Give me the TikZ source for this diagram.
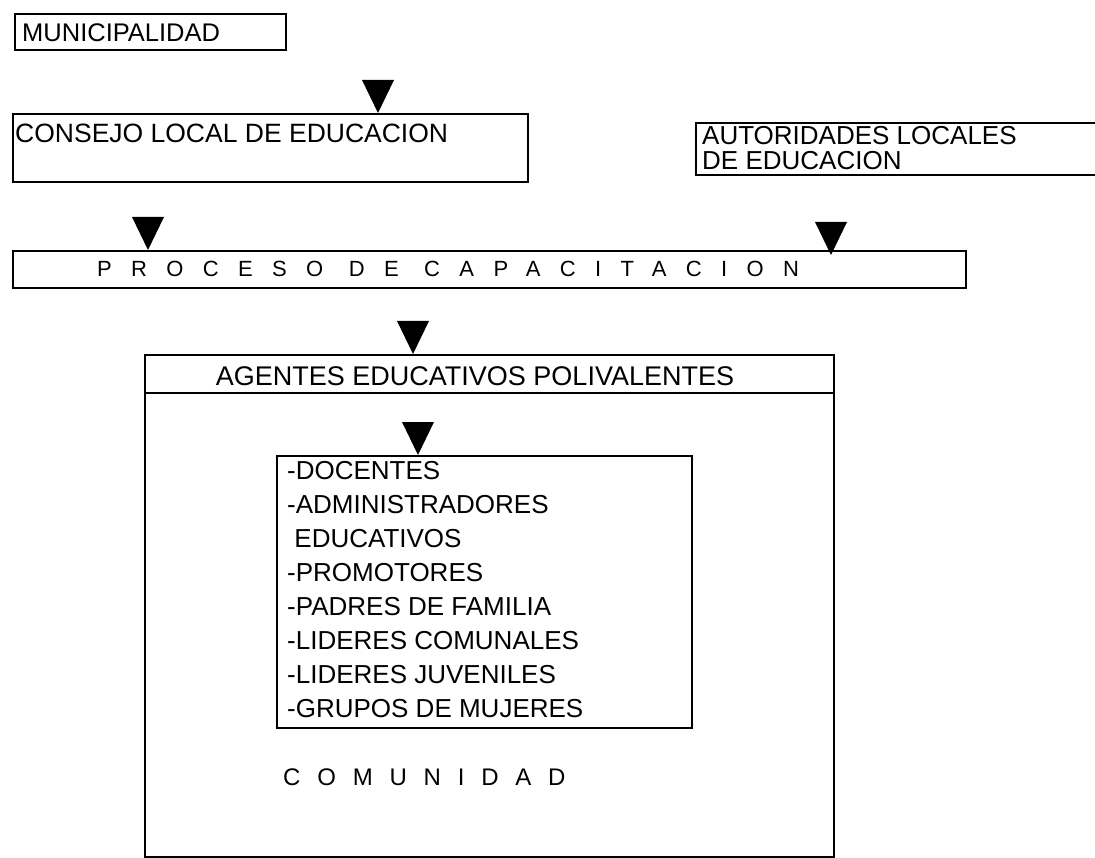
\documentclass[tikz,border=0pt]{standalone}
\usepackage{fontspec}
\setmainfont{Liberation Sans}
\usepackage{tikz}
\usetikzlibrary{positioning}

\tikzset{
  box/.style={draw, line width=2pt, inner sep=0pt, anchor=north west},
  lbl/.style={anchor=base west, inner sep=0pt},
  pointer/.style={fill=black}
}
\newcommand{\txt}[1]{\fontsize{#1}{34}\selectfont}

\begin{document}
\begin{tikzpicture}[x=1pt, y=-1pt]
  \useasboundingbox (0,0) rectangle (1095,858);
  % boxes
  \node[box, minimum width=271pt, minimum height=36pt] (muni) at (14,13) {};
  \node[box, minimum width=515pt, minimum height=68pt] (consejo) at (12,113) {};
  \node[box, minimum width=410pt, minimum height=52pt] (autor) at (695,122) {};
  \node[box, minimum width=953pt, minimum height=37pt] (proceso) at (12,250) {};
  \node[box, minimum width=689pt, minimum height=502pt] (agentes) at (144,354) {};
  \node[box, minimum width=415pt, minimum height=272pt] (lista) at (276,455) {};
  \draw[line width=2pt] (144,393) -- (833,393);
  % texts
  \node[lbl, font=\txt{25.5}] (tmuni) at (22,42) {MUNICIPALIDAD};
  \node[lbl, font=\txt{26.5}] (tconsejo) at (15,143) {CONSEJO LOCAL DE EDUCACION};
  \node[lbl, font=\txt{26}] (tautor1) at (702,145) {AUTORIDADES LOCALES};
  \node[lbl, font=\txt{26}] (tautor2) at (702,170) {DE EDUCACION};
  \node[lbl, font={\txt{22}\addfontfeature{LetterSpace=88}}] (tproceso) at (97,277) {PROCESO DE CAPACITACION};
  \node[anchor=base, inner sep=0pt, font=\txt{27}] (tagentes) at (475,386) {AGENTES EDUCATIVOS POLIVALENTES};
  \node[anchor=north west, inner sep=0pt, align=left, font=\txt{26}] (tlista) at (287,461)
    {-DOCENTES\\-ADMINISTRADORES\\\ EDUCATIVOS\\-PROMOTORES\\-PADRES DE FAMILIA\\-LIDERES COMUNALES\\-LIDERES JUVENILES\\-GRUPOS DE MUJERES};
  \node[lbl, font={\txt{24}\addfontfeature{LetterSpace=70}}] (tcomunidad) at (283,785) {COMUNIDAD};
  % pointers
  \coordinate (t1) at (378,113);
  \coordinate (t2) at (148,250);
  \coordinate (t3) at (831,255);
  \coordinate (t4) at (413,354);
  \coordinate (t5) at (418,455);
  \foreach \t in {t1,t2,t3,t4,t5}
    \fill[pointer] (\t) -- ++(-16,-33) -- ++(32,0) -- cycle;
\end{tikzpicture}
\end{document}
